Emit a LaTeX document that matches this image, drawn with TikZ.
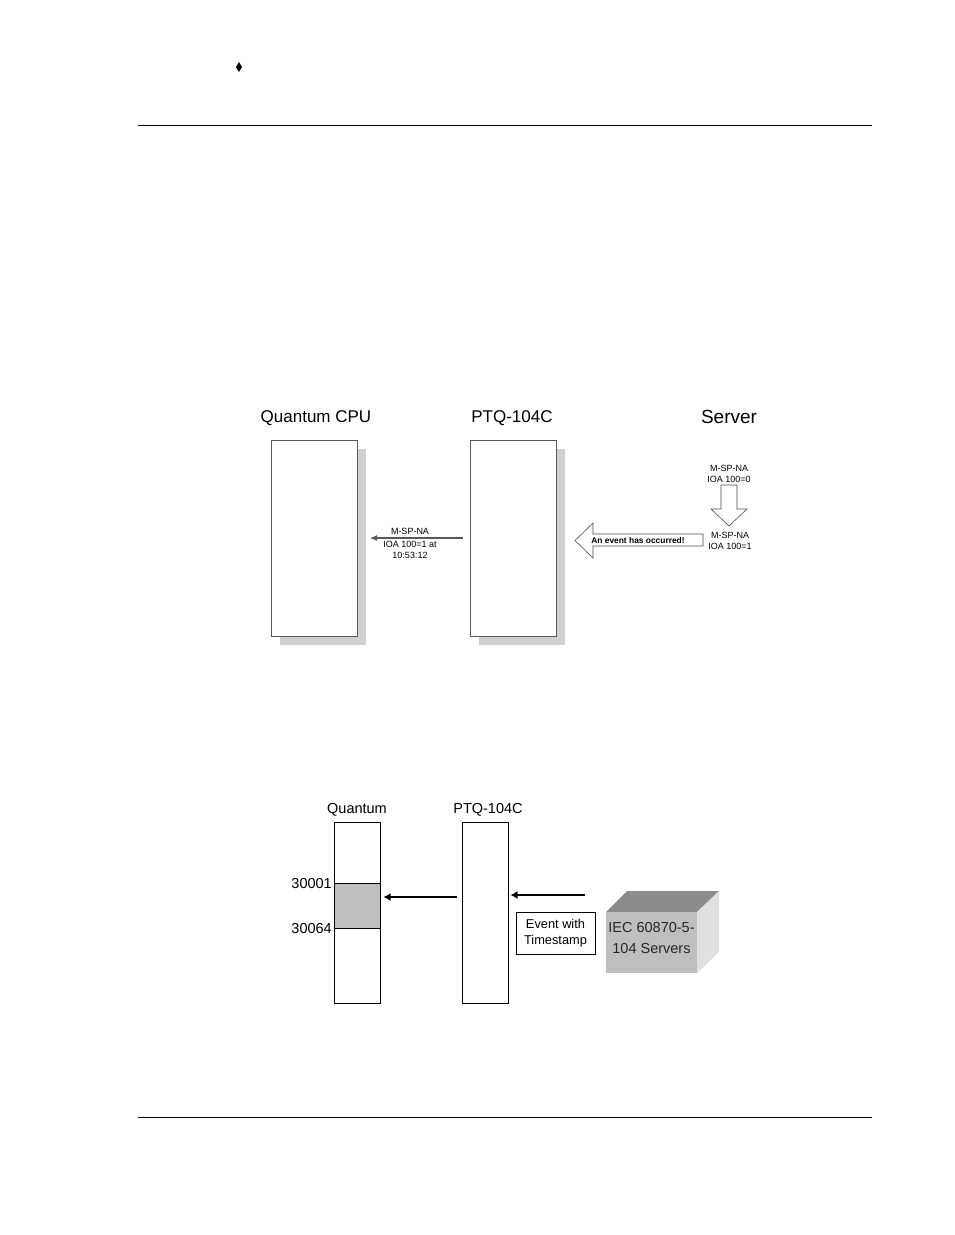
\documentclass[tikz,border=0pt]{standalone}
\usepackage{fontspec}
\setmainfont{Liberation Sans}
\usetikzlibrary{arrows.meta}
\begin{document}
\begin{tikzpicture}[x=1pt,y=-1pt,
  box/.style={draw=black!65, line width=0.8pt, fill=white, anchor=north west, inner sep=0pt, outer sep=0pt, minimum width=86pt, minimum height=196pt},
  shade/.style={fill=black!18},
  ttl/.style={font=\fontsize{17}{20}\selectfont, inner sep=0pt},
  small/.style={font=\fontsize{9}{11}\selectfont, align=center, inner sep=0pt},
  hollow/.style={draw=black!70, line width=0.6pt, fill=white, line join=miter},
  col/.style={draw=black, line width=0.8pt, fill=white, anchor=north west, inner sep=0pt, outer sep=0pt, minimum width=46pt, minimum height=181pt},
  blackarrow/.style={line width=2pt, -{Latex[length=7pt,width=8pt]}},
  btxt/.style={font=\fontsize{14.5}{17}\selectfont, inner sep=0pt},
]
\useasboundingbox (0,0) rectangle (954,1235);
\fill[white] (0,0) rectangle (954,1235);

% page furniture
\fill (239,62) -- (242,67) -- (239,72) -- (236,67) -- cycle;
\draw[line width=1pt] (138,125) -- (872,125);
\draw[line width=1pt] (138,1117) -- (872,1117);

% ---------- top diagram ----------
\node[ttl] (tq) at (316,418) {Quantum CPU};
\node[ttl] (tp) at (512,418) {PTQ-104C};
\node[font=\fontsize{19}{22}\selectfont, inner sep=0pt] (ts) at (729,417) {Server};

\fill[shade] (280,449) rectangle (366,645);
\node[box] (qcpu) at (271,440) {};
\fill[shade] (479,449) rectangle (565,645);
\node[box] (ptq) at (470,440) {};

\draw[black!65, line width=1.1pt, -{Latex[length=7pt,width=6pt]}, shorten <=7pt, shorten >=13pt] (ptq.west) -- (qcpu.east);
\node[small, fill=white, inner xsep=2pt] (l1a) at (410,531) {M-SP-NA};
\node[small] (l1b) at (410,549.5) {IOA 100=1 at\\10:53:12};

% hollow left arrow
\draw[hollow] (703,534) -- (593,534) -- (593,523) -- (575,540.5) -- (593,558) -- (593,546) -- (703,546) -- cycle;
\node[font=\bfseries\fontsize{8.4}{10}\selectfont, inner sep=0pt] (evt) at (638,540) {An event has occurred!};

% hollow down arrow
\draw[hollow] (721,485) -- (737,485) -- (737,509) -- (747,509) -- (729,526) -- (711,509) -- (721,509) -- cycle;
\node[small] (s0) at (729,474) {M-SP-NA\\IOA 100=0};
\node[small] (s1) at (730,540.5) {M-SP-NA\\IOA 100=1};

% ---------- bottom diagram ----------
\node[btxt] (bq) at (357,809.5) {Quantum};
\node[btxt] (bp) at (488,809.5) {PTQ-104C};

\node[col] (qcol) at (334,822) {};
\fill[black!25] (334,883) rectangle (380,928);
\draw[line width=0.8pt] (334,883) -- (380,883);
\draw[line width=0.8pt] (334,928) -- (380,928);
\draw[line width=0.8pt] (qcol.north west) rectangle (qcol.south east);
\node[btxt, anchor=east] (r1) at (332,883) {30001};
\node[btxt, anchor=east] (r2) at (332,928) {30064};

\node[col] (pcol) at (462,822) {};

\coordinate (a1s) at (457,897);
\draw[blackarrow, shorten >=3.5pt] (a1s) -- (a1s -| qcol.east);
\coordinate (a2s) at (585,895);
\draw[blackarrow, shorten >=2.5pt] (a2s) -- (a2s -| pcol.east);

\node[draw=black, line width=0.8pt, fill=white, align=center, inner sep=0pt, minimum width=79pt, minimum height=42pt, font=\fontsize{12.8}{15.5}\selectfont] (ev) at (555.5,933) {Event with\\Timestamp};

% cube
\fill[black!45] (606,912) -- (627,891) -- (719,891) -- (697,912) -- cycle;
\fill[black!12] (697,912) -- (719,891) -- (719,952) -- (697,973) -- cycle;
\node[fill=black!25, minimum width=91pt, minimum height=61pt, inner sep=0pt, anchor=north west, outer sep=0pt] (srv) at (606,912) {};
\node[font=\fontsize{14.5}{21}\selectfont, align=center, inner sep=0pt, text=black!85] (srvt) at (651.5,937.5) {IEC 60870-5-\\104 Servers};
\end{tikzpicture}
\end{document}
